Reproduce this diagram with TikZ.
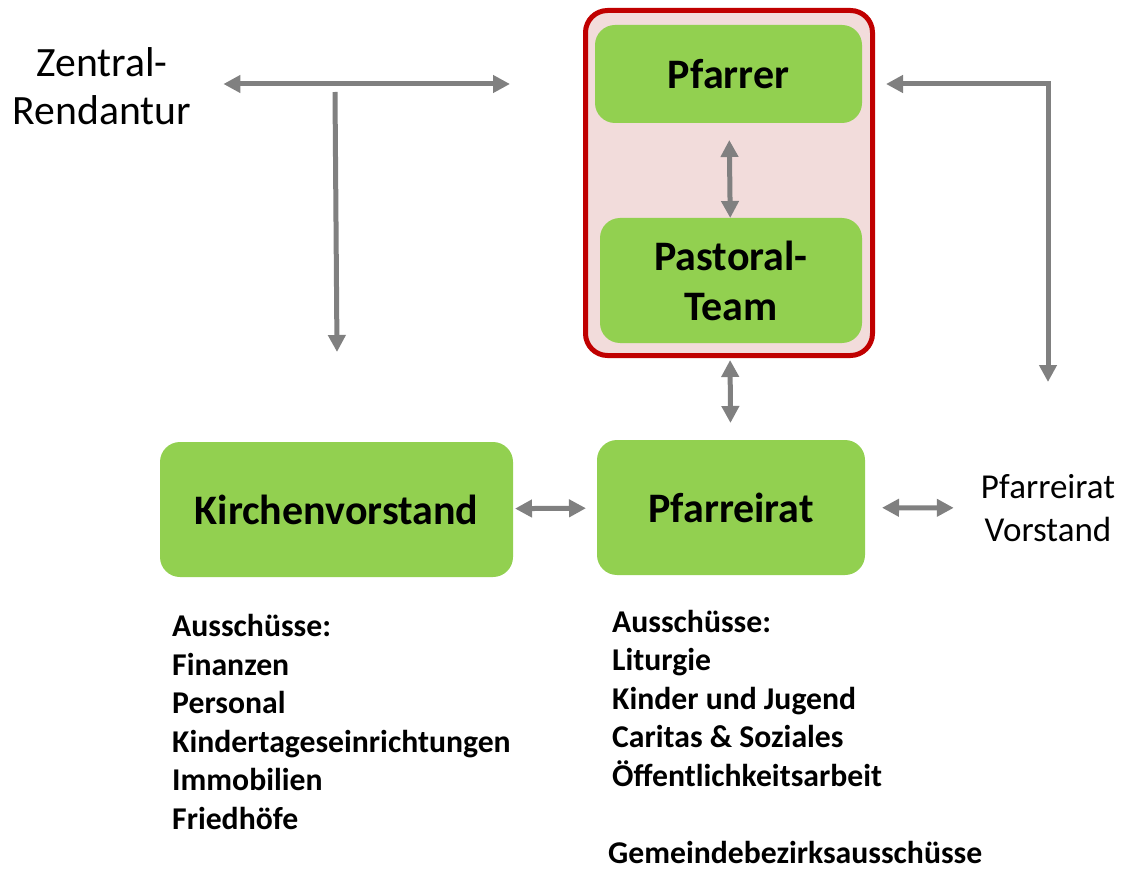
\documentclass[tikz,border=0pt]{standalone}
\usepackage{fontspec}
\setmainfont{Carlito}
\usetikzlibrary{arrows.meta}
\definecolor{boxgreen}{HTML}{92D050}
\definecolor{teamred}{HTML}{C00000}
\definecolor{teampink}{HTML}{F2DCDB}
\definecolor{arrowgray}{HTML}{808080}
\tikzstyle{group} = [rectangle, rounded corners=22pt, minimum width=287pt, minimum height=345pt, inner sep=0pt, outer sep=0pt, draw=teamred, line width=5pt, fill=teampink]
\tikzstyle{body} = [rectangle, rounded corners=20pt, align=center, inner sep=0pt, outer sep=0pt, fill=boxgreen, font=\fontsize{42}{50}\selectfont\bfseries]
\tikzstyle{note} = [align=center, inner sep=0pt]
\tikzstyle{listing} = [align=left, anchor=base west, inner sep=0pt, font=\fontsize{31.7}{38.5}\selectfont\bfseries]
\tikzstyle{edge} = [line width=5pt, draw=arrowgray, <->, >={Triangle[length=17pt, width=17pt]}]

\begin{document}
\begin{tikzpicture}[x=1pt, y=-1pt]

\useasboundingbox (0,0) rectangle (1128,869);

\node (0) [group] at (729,183) {};
\node (1) [body, minimum width=267pt, minimum height=98pt] at (728.5,74) {Pfarrer};
\node (2) [body, minimum width=262pt, minimum height=125pt] at (731,280.5) {Pastoral-\\Team};
\node (3) [body, minimum width=353pt, minimum height=135pt] at (336.5,509.5) {Kirchenvorstand};
\node (4) [body, minimum width=268pt, minimum height=135pt] at (731,507.5) {Pfarreirat};
\node (5) [note, font=\fontsize{41.7}{48}\selectfont] at (102,86) {Zentral-\\Rendantur};
\node (6) [note, font=\fontsize{35}{43}\selectfont] at (1048,508) {Pfarreirat\\Vorstand};
% base anchor sits on the last line
\node (7) [listing] at (172,829) {Ausschüsse:\\Finanzen\\Personal\\Kindertageseinrichtungen\\Immobilien\\Friedhöfe};
\node (8) [listing] at (612,786) {Ausschüsse:\\Liturgie\\Kinder und Jugend\\Caritas \& Soziales\\Öffentlichkeitsarbeit};
\node (9) [listing] at (608,863) {Gemeindebezirksausschüsse};

\coordinate (zr) at (510,84);
\coordinate (zt) at (335,92);
\coordinate (zb) at (337,352);
\coordinate (rt) at (886,84);
\coordinate (rb) at (1048,382);

\draw [edge, shorten <=32pt] (5.east |- zr) -- (zr);
\draw [edge, ->] (zt) -- (zb);
\draw [edge] (rt) -| (rb);
\draw [edge, shorten <=17pt] (1) -- (2);
\draw [edge, shorten <=4.5pt, shorten >=17pt] (0) -- (4);
\draw [edge, shorten <=2pt, shorten >=11pt] (3) -- (4);
\draw [edge, shorten <=17pt, shorten >=27pt] (4) -- (6);

\end{tikzpicture}
\end{document}
